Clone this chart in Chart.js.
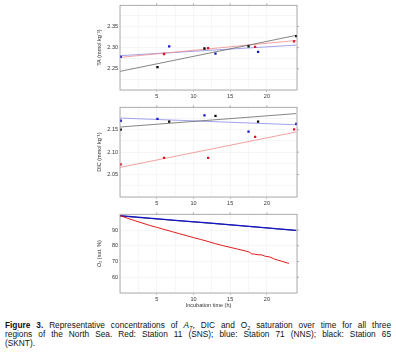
<!DOCTYPE html>
<html>
<head>
<meta charset="utf-8">
<script src="https://cdn.jsdelivr.net/npm/chart.js@4"></script>
<style>
  html, body { margin: 0; padding: 0; background: #fff; }
  body { width: 396px; height: 354px; position: relative; overflow: hidden; font-family: 'Liberation Sans', Arial, sans-serif; }
  .panel { position: absolute; left: 96px; width: 209px; }
  .caption { position: absolute; left: 5px; width: 386px; top: 321px; font-size: 8.3px; line-height: 8.8px; color: #111; }
  .caption div { text-align: justify; text-align-last: justify; white-space: nowrap; }
  .caption div.last { text-align-last: left; }
  sub { font-size: 5.5px; line-height: 0; vertical-align: -1.5px; }
</style>
</head>
<body>
<div class="panel" style="top:0px;height:100px"><canvas id="ta"></canvas></div>
<div class="panel" style="top:102px;height:105px"><canvas id="dic"></canvas></div>
<div class="panel" style="top:209px;height:100px"><canvas id="o2"></canvas></div>
<div class="caption">
  <div><b>Figure 3.</b> Representative concentrations of <i>A</i><sub><i>T</i></sub>, DIC and O<sub>2</sub> saturation over time for all three</div>
  <div>regions of the North Sea. Red: Station 11 (SNS); blue: Station 71 (NNS); black: Station 65</div>
  <div class="last">(SKNT).</div>
</div>
<script>
// --- data ---
const xTicks = [5, 10, 15, 20];

// TA panel
const taTicks = [2.25, 2.30, 2.35];
const taRedX = [6.0, 12.0, 18.4, 23.7];
const taRedY = [2.285, 2.299, 2.302, 2.315];
const taBlueX = [0.1, 6.7, 13.0, 18.8];
const taBlueY = [2.278, 2.303, 2.286, 2.290];
const taBlackX = [5.1, 11.5, 17.5, 24.0];
const taBlackY = [2.254, 2.298, 2.303, 2.327];
const fitX = [0, 24];
const taFitRed = [2.277, 2.317];
const taFitBlue = [2.281, 2.306];
const taFitBlack = [2.244, 2.329];

// DIC panel
const dicTicks = [2.05, 2.10, 2.15];
const dicRedX = [0.1, 6.0, 12.0, 18.4, 23.7];
const dicRedY = [2.073, 2.087, 2.087, 2.134, 2.151];
const dicBlueX = [0.1, 5.1, 11.5, 17.5, 24.0];
const dicBlueY = [2.170, 2.174, 2.182, 2.146, 2.163];
const dicBlackX = [0.1, 6.7, 13.0, 18.8];
const dicBlackY = [2.150, 2.168, 2.181, 2.168];
const dicFitRed = [2.066, 2.145];
const dicFitBlue = [2.176, 2.161];
const dicFitBlack = [2.156, 2.186];

// O2 panel
const o2Ticks = [60, 70, 80, 90];
const o2RedT = [0, 1, 2, 3, 4, 5, 6, 7, 8, 9, 10, 11, 12, 13, 14, 15, 16, 17, 17.6, 17.9, 18.3, 18.8, 19.3, 19.8, 20.3, 20.7, 21, 22, 23];
const o2RedY = [99.2, 97.5, 96.0, 94.5, 93.0, 91.7, 90.4, 89.1, 87.8, 86.5, 85.2, 84.0, 82.7, 81.3, 80.1, 79.0, 77.9, 76.8, 76.0, 74.9, 74.7, 74.3, 74.2, 73.3, 73.0, 72.3, 71.6, 70.2, 68.8];
const o2BlueT = [0, 4, 8, 12, 16, 20, 24];
const o2BlueY = [99.1, 97.6, 96.0, 94.5, 93.0, 91.4, 89.8];
const o2BlackT = [0, 4, 8, 12, 16, 20, 24];
const o2BlackY = [98.9, 97.4, 95.9, 94.4, 92.9, 91.3, 89.7];

const RED = '#e3122a', BLUE = '#1414c8', BLACK = '#000000';
const FONT = { family: "'Liberation Sans', Arial, sans-serif", size: 5.5 };

function pts(xs, ys) {
    return xs.map((x, i) => ({ x: x, y: ys[i] }));
}
function near(list, v, eps) {
    return list.some(t => Math.abs(t - v) < eps);
}

function points(xs, ys, color) {
    return { data: pts(xs, ys), backgroundColor: color, borderColor: color, pointStyle: 'rect', pointRadius: 1.6, borderWidth: 0, showLine: false, order: 1 };
}
function line(xs, ys, color, w) {
    return { data: pts(xs, ys), borderColor: color, backgroundColor: color, pointRadius: 0, borderWidth: w, showLine: true, order: 2 };
}

// frame with outward ticks on top and right
const framePlugin = {
    id: 'frame',
    afterDraw(chart) {
        const a = chart.chartArea, c = chart.ctx;
        c.save();
        c.strokeStyle = '#999';
        c.lineWidth = 0.8;
        c.strokeRect(a.left, a.top, a.right - a.left, a.bottom - a.top);
        const xs = chart.scales.x, ys = chart.scales.y;
        c.beginPath();
        xTicks.forEach(v => {
            const p = xs.getPixelForValue(v);
            c.moveTo(p, a.top); c.lineTo(p, a.top - 2);
        });
        chart.options.yMajor.forEach(v => {
            const p = ys.getPixelForValue(v);
            c.moveTo(a.right, p); c.lineTo(a.right + 2, p);
        });
        c.stroke();
        c.restore();
    }
};

function makeChart(id, datasets, yMin, yMax, yStep, yMajor, yTitle, xTitle, xHeight, decimals) {
    new Chart(document.getElementById(id), {
        type: 'scatter',
        data: { datasets: datasets },
        plugins: [framePlugin],
        options: {
            yMajor: yMajor,
            responsive: true,
            maintainAspectRatio: false,
            animation: false,
            layout: { padding: { top: 5, right: 8, left: 0, bottom: 0 } },
            plugins: { legend: { display: false }, tooltip: { enabled: false } },
            scales: {
                x: {
                    type: 'linear', min: 0, max: 24.1,
                    afterFit: s => { s.height = xHeight; },
                    ticks: {
                        stepSize: 2.5, font: FONT, color: '#333', padding: 1, maxRotation: 0,
                        callback: v => near(xTicks, v, 1e-6) ? String(v) : ''
                    },
                    grid: {
                        color: '#f0f0f0', lineWidth: 0.6, tickLength: 2,
                        tickColor: ctx => near(xTicks, ctx.tick.value, 1e-6) ? '#999' : 'rgba(0,0,0,0)'
                    },
                    border: { display: false },
                    title: { display: !!xTitle, text: xTitle || '', font: FONT, color: '#333', padding: { top: 1, bottom: 0 } }
                },
                y: {
                    min: yMin, max: yMax,
                    afterFit: s => { s.width = 24; },
                    ticks: {
                        stepSize: yStep, font: FONT, color: '#333', padding: 2,
                        callback: v => near(yMajor, v, 1e-6) ? v.toFixed(decimals) : ''
                    },
                    grid: { color: '#f0f0f0', lineWidth: 0.6, tickLength: 0 },
                    border: { display: false },
                    title: { display: true, text: yTitle, font: FONT, color: '#333', padding: { top: 0, bottom: 1 } }
                }
            }
        }
    });
}

makeChart('ta', [
    line(fitX, taFitBlack, '#666', 0.8),
    line(fitX, taFitRed, '#f08a8a', 0.8),
    line(fitX, taFitBlue, '#8a8ae6', 0.8),
    points(taBlackX, taBlackY, BLACK),
    points(taRedX, taRedY, RED),
    points(taBlueX, taBlueY, BLUE)
], 2.20, 2.40, 0.025, taTicks, 'TA (mmol kg\u207B\u00B9)', null, 10, 2);

makeChart('dic', [
    line(fitX, dicFitBlack, '#666', 0.8),
    line(fitX, dicFitRed, '#f08a8a', 0.8),
    line(fitX, dicFitBlue, '#8a8ae6', 0.8),
    points(dicBlackX, dicBlackY, BLACK),
    points(dicRedX, dicRedY, RED),
    points(dicBlueX, dicBlueY, BLUE)
], 2.00, 2.20, 0.025, dicTicks, 'DIC (mmol kg\u207B\u00B9)', null, 10, 2);

makeChart('o2', [
    line(o2RedT, o2RedY, '#e00000', 0.9),
    line(o2BlueT, o2BlueY, BLUE, 1.2),
    line(o2BlackT, o2BlackY, '#111133', 0.8)
], 50, 100, 5, o2Ticks, 'O\u2082 (sat. %)', 'Incubation time (h)', 16, 0);
</script>
</body>
</html>
